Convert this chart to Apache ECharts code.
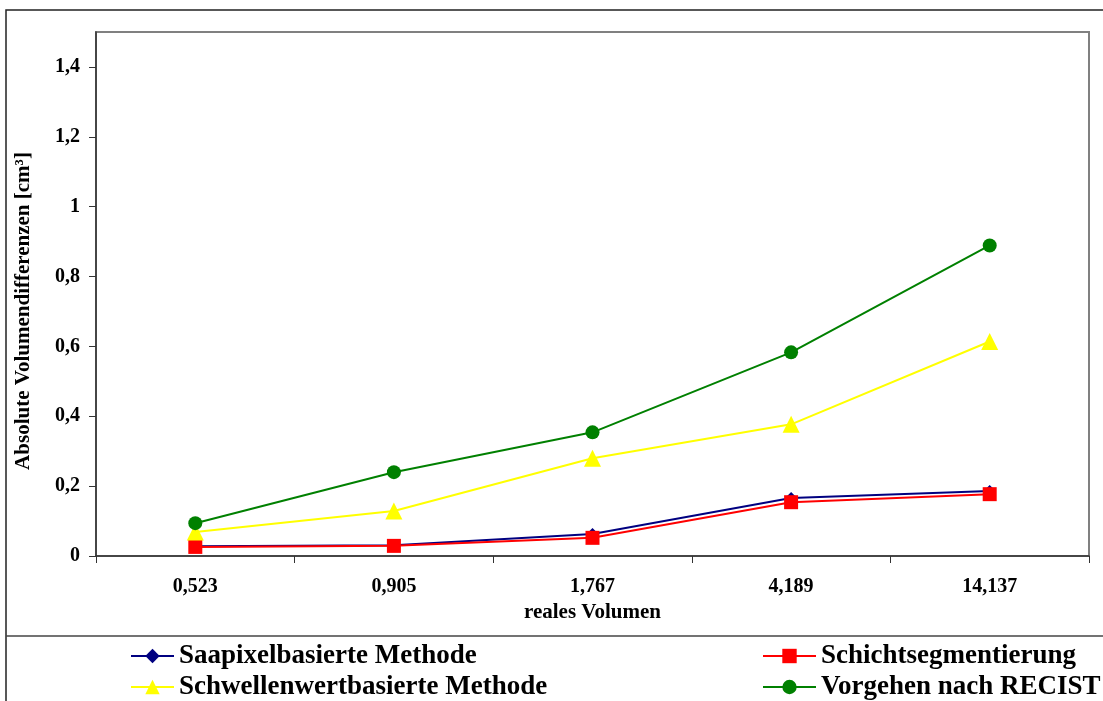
<!DOCTYPE html>
<html><head><meta charset="utf-8">
<script src="https://cdn.jsdelivr.net/npm/echarts@6/dist/echarts.min.js"></script>
<style>html,body{margin:0;padding:0;background:#fff}#c{width:1103px;height:701px}</style>
</head><body><div id="c"></div>
<script>
var categories = ['0,523', '0,905', '1,767', '4,189', '14,137'];
var saapixel = [0.028, 0.031, 0.063, 0.166, 0.186];
var schicht = [0.026, 0.029, 0.052, 0.154, 0.177];
var schwellen = [0.069, 0.129, 0.280, 0.377, 0.614];
var recist = [0.094, 0.240, 0.354, 0.583, 0.889];
var seriesNames = ['Saapixelbasierte Methode', 'Schichtsegmentierung', 'Schwellenwertbasierte Methode', 'Vorgehen nach RECIST'];
var yTitle = 'Absolute Volumendifferenzen [cm³]';
var xTitle = 'reales Volumen';

var FONT = '"Liberation Serif", "Times New Roman", serif';
var chart = echarts.init(document.getElementById('c'), null, {renderer: 'canvas'});
function mk(name, data, color, symbol, size) {
  return {name: name, type: 'line', data: data, symbol: symbol, symbolSize: size,
    lineStyle: {color: color, width: 2}, itemStyle: {color: color}, animation: false};
}
var legendText = {fontFamily: FONT, fontWeight: 'bold', fontSize: 27, lineHeight: 28, color: '#000'};
function lg(name, left, top, w) {
  return {data: [name], left: left, top: top, itemGap: 0, itemWidth: w, itemHeight: 18, padding: 0,
    textStyle: legendText, selectedMode: false};
}
chart.setOption({
  backgroundColor: '#fff',
  animation: false,
  grid: {left: 96, top: 32, right: 14, bottom: 145, show: true, borderColor: '#808080', borderWidth: 2},
  graphic: [
    {type: 'rect', shape: {x: 6, y: 10, width: 1110, height: 710}, style: {fill: null, stroke: '#222', lineWidth: 1.5}, silent: true},
    {type: 'line', shape: {x1: 6, y1: 636, x2: 1110, y2: 636}, style: {stroke: '#444', lineWidth: 1.5}, silent: true}
  ],
  legend: [
    lg(seriesNames[0], 130, 642, 43),
    lg(seriesNames[2], 130, 673, 43),
    lg(seriesNames[1], 762, 642, 53),
    lg(seriesNames[3], 762, 673, 53)
  ],
  xAxis: {
    type: 'category', data: categories, boundaryGap: true,
    name: xTitle, nameLocation: 'middle', nameGap: 43,
    nameTextStyle: {fontFamily: FONT, fontWeight: 'bold', fontSize: 21, color: '#000'},
    axisLine: {lineStyle: {color: '#333', width: 1.5}},
    axisTick: {show: true, inside: false, length: 7, lineStyle: {color: '#333'}},
    axisLabel: {fontFamily: FONT, fontWeight: 'bold', fontSize: 20, color: '#000', margin: 21}
  },
  yAxis: {
    type: 'value', min: 0, max: 1.5, interval: 0.2,
    name: yTitle, nameLocation: 'middle', nameGap: 62, nameRotate: 90,
    nameTextStyle: {fontFamily: FONT, fontWeight: 'bold', fontSize: 21, color: '#000', padding: [0, 34, 0, 0]},
    splitLine: {show: false},
    axisLine: {show: true, lineStyle: {color: '#333', width: 1.5}},
    axisTick: {show: true, inside: false, length: 7, lineStyle: {color: '#333'}},
    axisLabel: {fontFamily: FONT, fontWeight: 'bold', fontSize: 20, color: '#000', margin: 16, showMaxLabel: false,
      formatter: function (v) { if (v > 1.45) return ''; return (Math.round(v * 10) / 10).toString().replace('.', ','); }}
  },
  series: [
    mk(seriesNames[0], saapixel, '#000080', 'diamond', 12),
    mk(seriesNames[1], schicht, '#FF0000', 'rect', 14),
    mk(seriesNames[2], schwellen, '#FFFF00', 'triangle', 17),
    mk(seriesNames[3], recist, '#008000', 'circle', 14)
  ]
});
</script></body></html>
